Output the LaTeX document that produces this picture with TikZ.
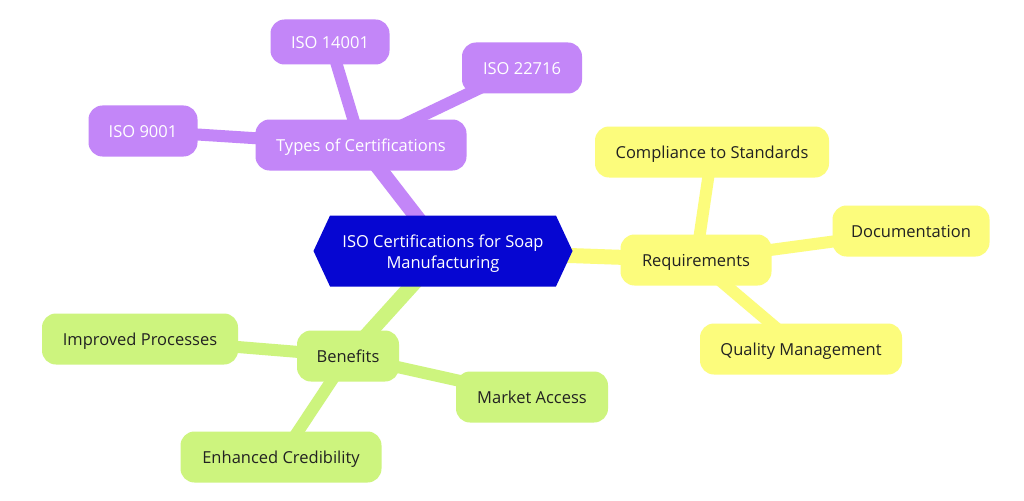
\documentclass[tikz,border=0pt]{standalone}
\usepackage{fontspec}
\setmainfont{Open Sans}
\usetikzlibrary{shapes.misc,shapes.symbols,backgrounds}
\definecolor{cpurple}{HTML}{C386F8}
\definecolor{cyellow}{HTML}{FCFC7C}
\definecolor{cgreen}{HTML}{CDF47E}
\definecolor{cblue}{HTML}{0606D2}
\definecolor{ctext}{HTML}{222222}
\tikzset{
  box/.style={rounded corners=14pt, minimum height=51pt, inner xsep=0pt, inner ysep=0pt, text height=17pt, text depth=4pt, font=\fontsize{16.5}{20}\selectfont, anchor=center},
  pbox/.style={box, fill=cpurple, text=white},
  ybox/.style={box, fill=cyellow, text=ctext},
  gbox/.style={box, fill=cgreen, text=ctext},
  hub/.style={signal, signal to=west and east, signal pointer angle=130, fill=cblue, text=white, minimum width=259pt, minimum height=71pt, inner sep=0pt, align=center, font=\fontsize{16.5}{21}\selectfont},
  pedge/.style={line width=15pt, cpurple},
  yedge/.style={line width=15pt, cyellow},
  gedge/.style={line width=15pt, cgreen},
  sp/.style={line width=12pt, cpurple},
  sy/.style={line width=12pt, cyellow},
  sg/.style={line width=12pt, cgreen},
}
\begin{document}
\begin{tikzpicture}[x=1pt,y=-1pt]
\useasboundingbox (0,0) rectangle (1024,500);
% nodes
\node[hub] (c) at (443,251) {\raisebox{-2.5pt}[\height][\depth]{\begin{tabular}{@{}c@{}}ISO Certifications for Soap\\Manufacturing\end{tabular}}};
\node[pbox, minimum width=211pt] (t) at (361,145) {Types of Certifications};
\node[pbox, minimum width=119pt, minimum height=45pt] (t1) at (330,42) {ISO 14001};
\node[pbox, minimum width=120pt] (t2) at (522,68) {ISO 22716};
\node[pbox, minimum width=109pt] (t3) at (143,131) {ISO 9001};
\node[ybox, minimum width=151pt] (r) at (696,260) {Requirements};
\node[ybox, minimum width=234pt] (r1) at (712,152) {Compliance to Standards};
\node[ybox, minimum width=157pt] (r2) at (911,231) {Documentation};
\node[ybox, minimum width=202pt] (r3) at (801,349) {Quality Management};
\node[gbox, minimum width=102pt] (b) at (348,356) {Benefits};
\node[gbox, minimum width=196pt] (b1) at (140,339) {Improved Processes};
\node[gbox, minimum width=152pt] (b2) at (532,397) {Market Access};
\node[gbox, minimum width=201pt] (b3) at (281,457) {Enhanced Credibility};
% edges behind
\begin{scope}[on background layer]
\fill[white] (0,0) rectangle (1024,500);
\draw[pedge] (c.center) -- (t.center);
\draw[yedge] (c.center) -- (r.center);
\draw[gedge] (c.center) -- (b.center);
\draw[sp] (t.center) -- (t1.center);
\draw[sp] (t.center) -- (t2.center);
\draw[sp] (t.center) -- (t3.center);
\draw[sy] (r.center) -- (r1.center);
\draw[sy] (r.center) -- (r2.center);
\draw[sy] (r.center) -- (r3.center);
\draw[sg] (b.center) -- (b1.center);
\draw[sg] (b.center) -- (b2.center);
\draw[sg] (b.center) -- (b3.center);
\end{scope}
\end{tikzpicture}
\end{document}
